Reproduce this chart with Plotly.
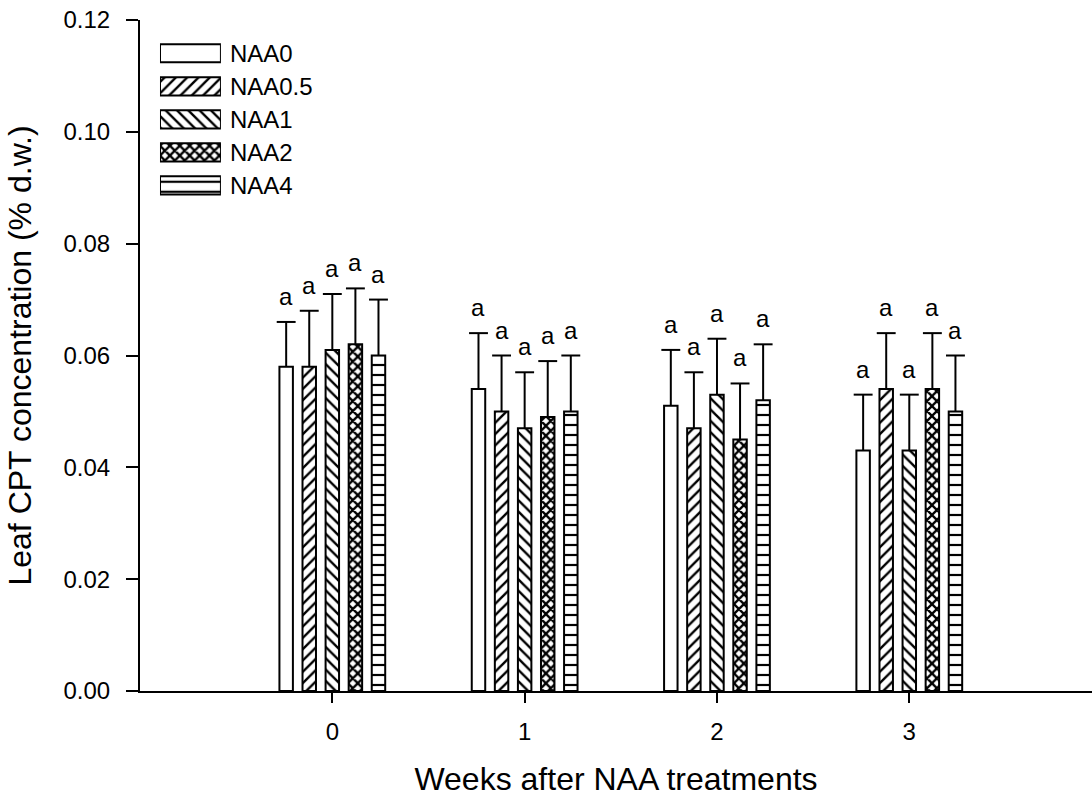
import plotly.graph_objects as go

# Weeks after treatment (x categories)
weeks = [0, 1, 2, 3]
treatments = ["NAA0", "NAA0.5", "NAA1", "NAA2", "NAA4"]

# Leaf CPT concentration (% d.w.) per treatment, one value per week
naa0 = [0.058, 0.054, 0.051, 0.043]
naa0_5 = [0.058, 0.050, 0.047, 0.054]
naa1 = [0.061, 0.047, 0.053, 0.043]
naa2 = [0.062, 0.049, 0.045, 0.054]
naa4 = [0.060, 0.050, 0.052, 0.050]

# Upper error (SE) per treatment
err_naa0 = [0.008, 0.010, 0.010, 0.010]
err_naa0_5 = [0.010, 0.010, 0.010, 0.010]
err_naa1 = [0.010, 0.010, 0.010, 0.010]
err_naa2 = [0.010, 0.010, 0.010, 0.010]
err_naa4 = [0.010, 0.010, 0.010, 0.010]

# Significance letters
let_naa0 = ["a", "a", "a", "a"]
let_naa0_5 = ["a", "a", "a", "a"]
let_naa1 = ["a", "a", "a", "a"]
let_naa2 = ["a", "a", "a", "a"]
let_naa4 = ["a", "a", "a", "a"]

values = [naa0, naa0_5, naa1, naa2, naa4]
errors = [err_naa0, err_naa0_5, err_naa1, err_naa2, err_naa4]
letters = [let_naa0, let_naa0_5, let_naa1, let_naa2, let_naa4]

# fill pattern for each treatment: (shape, size, solidity)
patterns = [("", 8, 0.3), ("/", 8, 0.3), ("\\", 8, 0.3), ("x", 7, 0.55), ("-", 10, 0.22)]

FONT = "Arial, Liberation Sans, sans-serif"
SLOT = 0.12      # spacing between bars inside a group (x units)
BAR_W = 0.07     # bar width (x units)

fig = go.Figure()


def marker_for(k):
    shape, size, solid = patterns[k]
    pat = dict(shape=shape, size=size, solidity=solid, fgcolor="black",
               bgcolor="white", fillmode="replace")
    return dict(color="white", pattern=pat, line=dict(color="black", width=2))


annotations = []
for k, name in enumerate(treatments):
    xs = [w + (k - 2) * SLOT for w in weeks]
    vals = values[k]
    errs = errors[k]
    tops = [v + e for v, e in zip(vals, errs)]

    fig.add_trace(go.Bar(
        x=xs, y=vals, width=BAR_W, name=name, marker=marker_for(k),
        showlegend=False, hoverinfo="x+y",
    ))

    # upper error stems
    lx, ly = [], []
    for x, v, t in zip(xs, vals, tops):
        lx += [x, x, None]
        ly += [v, t, None]
    fig.add_trace(go.Scatter(
        x=lx, y=ly, mode="lines", line=dict(color="black", width=2),
        showlegend=False, hoverinfo="skip",
    ))
    # error caps
    fig.add_trace(go.Scatter(
        x=xs, y=tops, mode="markers",
        marker=dict(symbol="line-ew", size=13.5, line=dict(color="black", width=2)),
        showlegend=False, hoverinfo="skip",
    ))

    for x, t, s in zip(xs, tops, letters[k]):
        annotations.append(dict(
            x=x, y=t, xref="x", yref="y", text=s, showarrow=False,
            yanchor="bottom", xanchor="center", yshift=10,
            font=dict(family=FONT, size=24, color="black"),
        ))

# legend drawn as swatch bars on a small inset axis
for k, name in enumerate(treatments):
    fig.add_trace(go.Bar(
        x=[1], y=[name], base=0, orientation="h", width=0.55,
        marker=marker_for(k), xaxis="x2", yaxis="y2",
        showlegend=False, hoverinfo="skip",
    ))

fig.update_layout(
    width=1092, height=804,
    margin=dict(l=140, r=0, t=20, b=113),
    paper_bgcolor="white", plot_bgcolor="white",
    barmode="overlay",
    font=dict(family=FONT, size=24, color="black"),
    annotations=annotations,
    xaxis=dict(
        range=[-1, 3.95], tickvals=weeks, ticktext=[str(w) for w in weeks],
        showline=True, linecolor="black", linewidth=2,
        ticks="outside", ticklen=10, tickwidth=2, tickcolor="black",
        showgrid=False, zeroline=False,
        tickfont=dict(size=24), ticklabelstandoff=8,
        title=dict(text="Weeks after NAA treatments", font=dict(size=32), standoff=24),
    ),
    yaxis=dict(
        range=[0, 0.12], dtick=0.02, tickformat=".2f",
        showline=True, linecolor="black", linewidth=2,
        ticks="outside", ticklen=12, tickwidth=2, tickcolor="black",
        showgrid=False, zeroline=False,
        tickfont=dict(size=24), ticklabelstandoff=11,
        title=dict(text="Leaf CPT concentration (% d.w.)", font=dict(size=32), standoff=22),
    ),
    xaxis2=dict(
        domain=[0.021, 0.085], range=[0, 1], anchor="y2",
        visible=False, fixedrange=True,
    ),
    yaxis2=dict(
        domain=[0.729, 0.975], anchor="x2", type="category",
        categoryorder="array", categoryarray=treatments[::-1],
        tickmode="array", tickvals=treatments, ticktext=treatments,
        side="right", showline=False, ticks="", showgrid=False, zeroline=False,
        ticklabelstandoff=8, tickfont=dict(size=24), fixedrange=True,
    ),
)

fig.write_html("out.html")
